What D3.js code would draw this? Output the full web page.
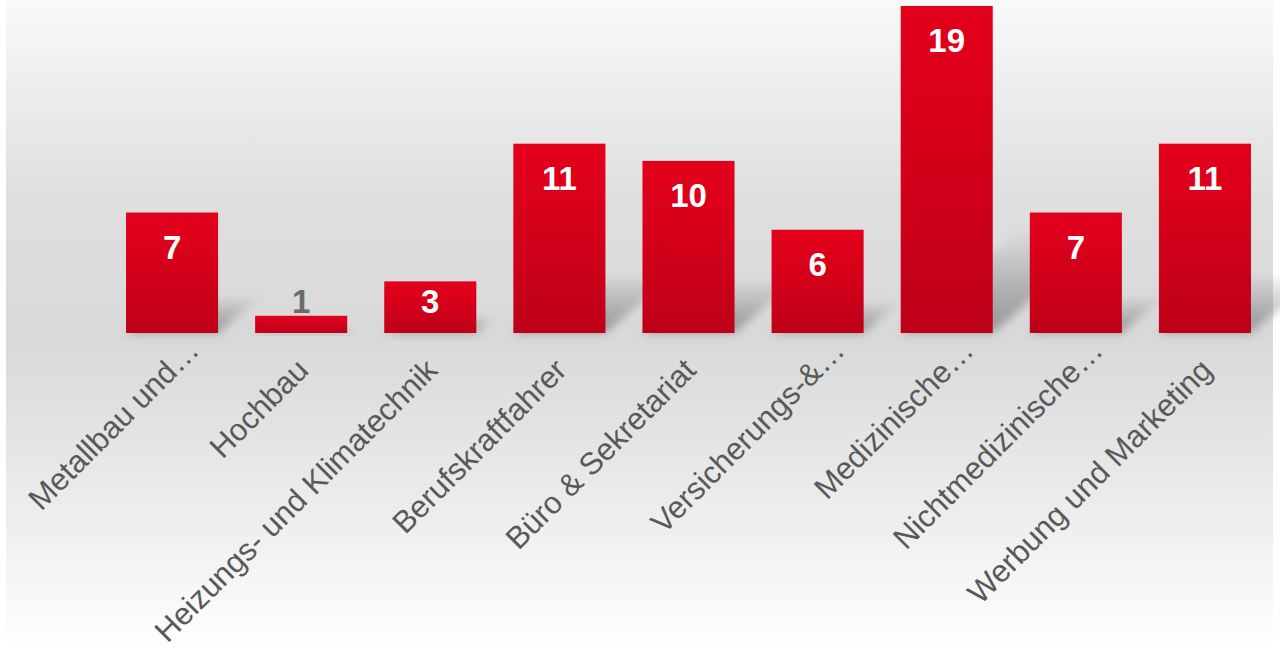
<!DOCTYPE html>
<html>
<head>
<meta charset="utf-8">
<script src="https://cdn.jsdelivr.net/npm/d3@7"></script>
<style>
  html, body { margin: 0; padding: 0; background: #fff; }
  text { font-family: "Liberation Sans", Arial, sans-serif; }
</style>
</head>
<body>
<div id="viz"></div>
<script>
const categories = [
    "Metallbau und…",
    "Hochbau",
    "Heizungs- und Klimatechnik",
    "Berufskraftfahrer",
    "Büro & Sekretariat",
    "Versicherungs-&…",
    "Medizinische…",
    "Nichtmedizinische…",
    "Werbung und Marketing"
];
const values = [7, 1, 3, 11, 10, 6, 19, 7, 11];

const width = 1280;
const height = 652;
const baseY = 333;

const svg = d3.select("#viz").append("svg")
    .attr("width", width)
    .attr("height", height);

const defs = svg.append("defs");

const bg = defs.append("linearGradient")
    .attr("id", "bg")
    .attr("x1", 0).attr("y1", 0).attr("x2", 0).attr("y2", 1);
bg.selectAll("stop")
    .data([[0, "#f9f9f9"], [0.3, "#dfdfdf"], [0.52, "#d9d9d9"], [0.8, "#eeeeee"], [1, "#ffffff"]])
    .join("stop")
        .attr("offset", d => d[0])
        .attr("stop-color", d => d[1]);

const barGrad = defs.append("linearGradient")
    .attr("id", "bar")
    .attr("x1", 0).attr("y1", 0).attr("x2", 0).attr("y2", 1);
barGrad.selectAll("stop")
    .data([[0, "#e3001b"], [0.5, "#d3001a"], [1, "#bd0018"]])
    .join("stop")
        .attr("offset", d => d[0])
        .attr("stop-color", d => d[1]);

const shGrad = defs.append("linearGradient")
    .attr("id", "sh")
    .attr("x1", 0).attr("y1", 0).attr("x2", 0).attr("y2", 1);
shGrad.selectAll("stop")
    .data([[0, 0.05], [0.6, 0.45], [1, 0.7]])
    .join("stop")
        .attr("offset", d => d[0])
        .attr("stop-color", "#777")
        .attr("stop-opacity", d => d[1]);

defs.append("filter")
    .attr("id", "blur")
    .attr("x", "-50%").attr("y", "-50%").attr("width", "200%").attr("height", "200%")
    .append("feGaussianBlur")
        .attr("stdDeviation", 5);

svg.append("rect")
    .attr("x", 6)
    .attr("y", 0)
    .attr("width", 1267)
    .attr("height", height)
    .attr("fill", "url(#bg)");

const xScale = d3.scaleBand()
    .domain(categories)
    .range([107.5, 1269.5])
    .paddingInner(0.287)
    .paddingOuter(0.1435);

const yScale = d3.scaleLinear()
    .domain([0, 19])
    .range([baseY, 6]);

const data = categories.map((c, i) => ({ name: c, value: values[i] }));

// perspective shadows
svg.selectAll(".shadow")
    .data(data)
    .join("path")
        .attr("class", "shadow")
        .attr("fill", "url(#sh)")
        .attr("filter", "url(#blur)")
        .attr("d", d => {
            const x0 = xScale(d.name);
            const x1 = x0 + xScale.bandwidth();
            const h = baseY - yScale(d.value);
            const dx = 0.35 * h, dy = 0.3 * h;
            return `M${x0},${baseY}L${x1},${baseY}L${x1 + dx},${baseY - dy}L${x0 + dx},${baseY - dy}Z`;
        });

svg.selectAll(".bar")
    .data(data)
    .join("rect")
        .attr("class", "bar")
        .attr("x", d => xScale(d.name))
        .attr("y", d => yScale(d.value))
        .attr("width", xScale.bandwidth())
        .attr("height", d => baseY - yScale(d.value))
        .attr("fill", "url(#bar)");

svg.selectAll(".value")
    .data(data)
    .join("text")
        .attr("class", "value")
        .style("text-anchor", "middle")
        .style("font-weight", "bold")
        .style("font-size", "33px")
        .style("fill", d => d.value > 2 ? "#ffffff" : "#6b6b6b")
        .attr("x", d => xScale(d.name) + xScale.bandwidth() / 2)
        .attr("y", d => {
            const top = yScale(d.value);
            if (d.value <= 2) return top - 3;
            return Math.min(top + 46, (top + baseY) / 2 + 6);
        })
        .text(d => d.value);

// truncated labels sit a bit further along the diagonal
svg.selectAll(".cat")
    .data(data)
    .join("text")
        .attr("class", "cat")
        .style("text-anchor", "end")
        .style("font-size", "31px")
        .style("fill", "#595959")
        .attr("transform", d => `translate(${xScale(d.name) + xScale.bandwidth() / 2 + 9},372) rotate(-45)`)
        .attr("dx", d => d.name.endsWith("…") ? 28 : 0)
        .text(d => d.name);
</script>
</body>
</html>
